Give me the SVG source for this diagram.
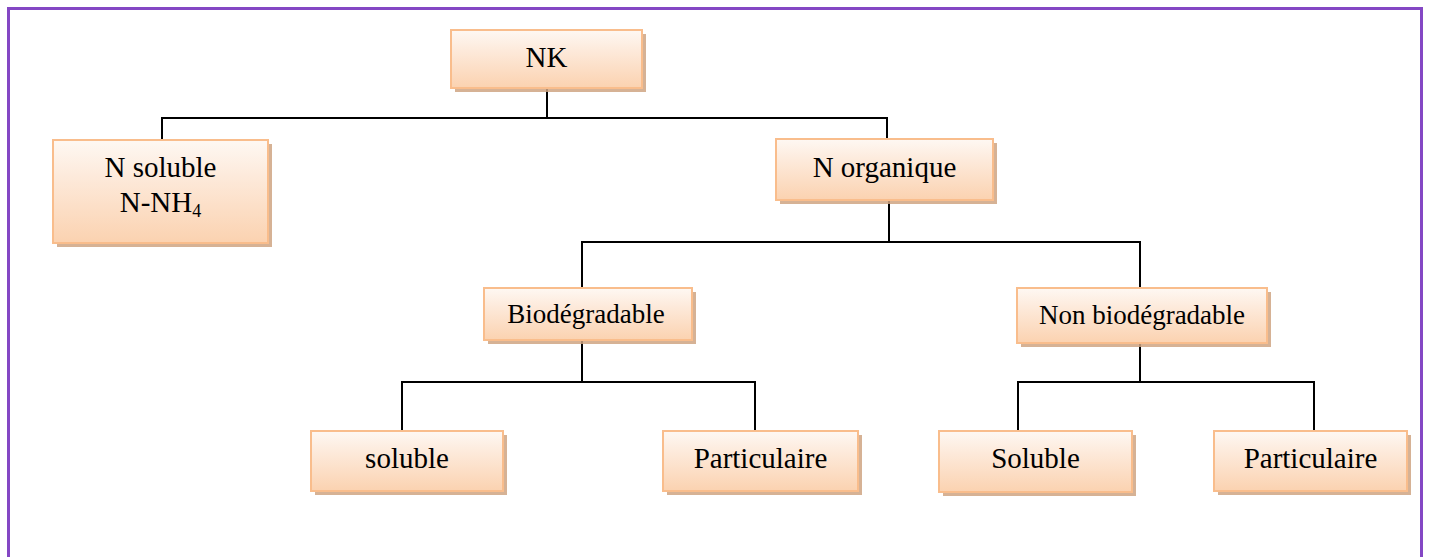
<svg xmlns="http://www.w3.org/2000/svg" width="1429" height="557" viewBox="0 0 1429 557">
<style>
.box{fill:url(#g);stroke:#f9bd8c;stroke-width:2}
.sh{fill:#cfa582;opacity:0.85}
.t{font-family:"Liberation Serif","Times New Roman",serif;font-size:29px;fill:#000;text-anchor:middle}
.s{font-size:27px}
.c{fill:none;stroke:#000;stroke-width:2}
</style>
<defs>
<linearGradient id="g" x1="0" y1="0" x2="0" y2="1">
<stop offset="0" stop-color="#fef8f3"/>
<stop offset="0.35" stop-color="#fdeadb"/>
<stop offset="1" stop-color="#fbd2b0"/>
</linearGradient>
</defs>
<rect x="0" y="0" width="1429" height="557" fill="#fff"/>
<rect x="8.5" y="8.5" width="1413" height="580" fill="none" stroke="#8447c4" stroke-width="3"/>
<g id="connectors">
<path class="c" d="M547 89V118M162 140V118H887V139"/>
<path class="c" d="M889 200V242M582 288V242H1140V288"/>
<path class="c" d="M582 341V382M402 431V382H755V431"/>
<path class="c" d="M1140 344V382M1018 431V382H1314V431"/>
</g>
<g id="nk"><rect class="sh" x="455" y="34" width="191" height="58"/><rect class="box" x="451" y="30" width="191" height="58"/><text class="t" x="546.5" y="67">NK</text></g>
<g id="nsoluble"><rect class="sh" x="57" y="144" width="215" height="103"/><rect class="box" x="53" y="140" width="215" height="103"/><text class="t" x="160.5" y="177">N soluble</text><text class="t" x="160.5" y="212">N-NH<tspan font-size="18" dy="5">4</tspan></text></g>
<g id="norganique"><rect class="sh" x="780" y="143" width="217" height="61"/><rect class="box" x="776" y="139" width="217" height="61"/><text class="t" x="884.5" y="177">N organique</text></g>
<g id="biodegradable"><rect class="sh" x="488" y="292" width="208" height="52"/><rect class="box" x="484" y="288" width="208" height="52"/><text class="t s" x="586" y="323">Biodégradable</text></g>
<g id="nonbio"><rect class="sh" x="1021" y="292" width="250" height="55"/><rect class="box" x="1017" y="288" width="250" height="55"/><text class="t s" x="1142" y="324">Non biodégradable</text></g>
<g id="soluble1"><rect class="sh" x="315" y="435" width="192" height="60"/><rect class="box" x="311" y="431" width="192" height="60"/><text class="t" x="407" y="468">soluble</text></g>
<g id="particulaire1"><rect class="sh" x="667" y="435" width="195" height="60"/><rect class="box" x="663" y="431" width="195" height="60"/><text class="t" x="760.5" y="468">Particulaire</text></g>
<g id="soluble2"><rect class="sh" x="943" y="435" width="193" height="61"/><rect class="box" x="939" y="431" width="193" height="61"/><text class="t" x="1035.5" y="468">Soluble</text></g>
<g id="particulaire2"><rect class="sh" x="1218" y="435" width="193" height="60"/><rect class="box" x="1214" y="431" width="193" height="60"/><text class="t" x="1310.5" y="468">Particulaire</text></g>
</svg>
